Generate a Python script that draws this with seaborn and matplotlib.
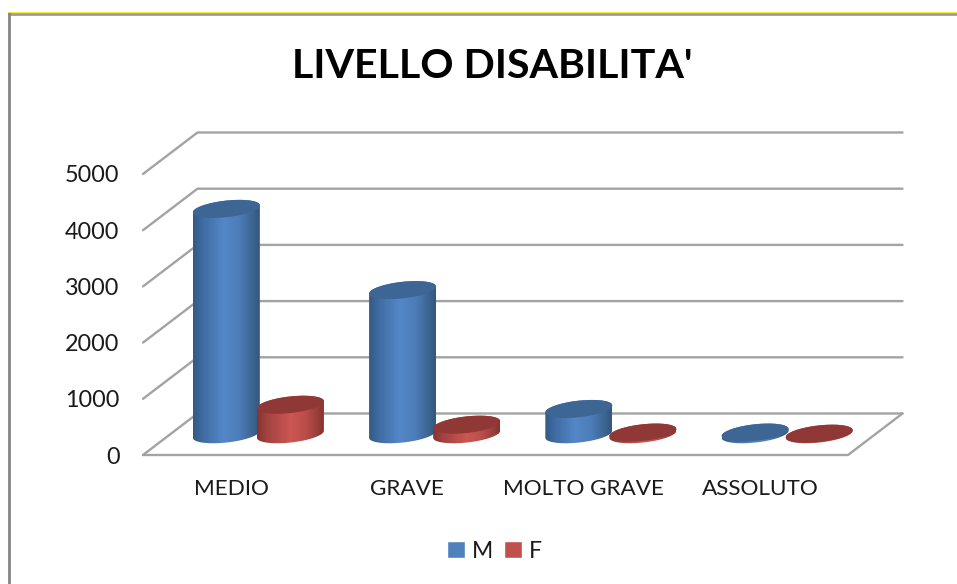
import numpy as np
import pandas as pd
import seaborn as sns
import matplotlib
matplotlib.use('Agg')
import matplotlib.pyplot as plt
from matplotlib.colors import LinearSegmentedColormap
from matplotlib.patches import Patch, PathPatch, Polygon
from matplotlib.path import Path
from matplotlib.transforms import Affine2D

# Values
categories = ['MEDIO', 'GRAVE', 'MOLTO GRAVE', 'ASSOLUTO']
values_m = [4010, 2565, 450, 30]
values_f = [525, 170, 30, 10]
y_ticks = [0, 1000, 2000, 3000, 4000, 5000]
title = "LIVELLO DISABILITA'"

W, H = 957, 584
DEPTH_X, DEPTH_Y = 54.5, 41.5
ELL_A, ELL_B, ELL_K = 33.5, 8.3, 0.105

sns.set_theme(style='white')
plt.rcParams['font.family'] = ['Lato', 'DejaVu Sans']

df = pd.DataFrame({
    'cat': categories * 2,
    'serie': ['M'] * 4 + ['F'] * 4,
    'val': values_m + values_f,
})
colors = {'M': '#4f81bd', 'F': '#c0504d'}

fig = plt.figure(figsize=(W / 100, H / 100), dpi=100, facecolor='white')
# the axes is the front plane of the 3D box
ax = fig.add_axes([143 / W, 1 - 455 / H, 705 / W, 281 / H], facecolor='none')
sns.barplot(data=df, x='cat', y='val', hue='serie', palette=colors, width=0.727,
            dodge=True, legend=False, ax=ax, saturation=1)
ax.set_xlim(-0.5, 3.5)
ax.set_ylim(0, 5000)
ax.set_yticks(y_ticks)
ax.set_xlabel('')
ax.set_ylabel('')
ax.tick_params(axis='y', length=0, pad=17, labelsize=16.8, labelcolor='#1a1a1a')
ax.tick_params(axis='x', length=0, pad=17.5, labelsize=16.2, labelcolor='#1a1a1a')
for s in ax.spines.values():
    s.set_visible(False)

fig.canvas.draw()

# bars sit half way into the depth of the box
mid = Affine2D().translate(DEPTH_X / 2, DEPTH_Y / 2)
bars = [p for p in ax.patches if p.get_height() > 0]
for p in bars:
    p.set_transform(ax.transData + mid)
    p.set_clip_on(False)

# pixel overlay for the box and the cylinders
over = fig.add_axes([0, 0, 1, 1], facecolor='none')
over.set_xlim(0, W)
over.set_ylim(H, 0)
over.axis('off')


def to_px(x, y, depth=0.0):
    px, py = ax.transData.transform((x, y))
    return px + DEPTH_X * depth, H - py - DEPTH_Y * depth


# walls and floor
grid_color = '#a3a3a3'
for v in y_ticks:
    x0, y0 = to_px(-0.5, v, 0)
    x1, y1 = to_px(-0.5, v, 1)
    x2, y2 = to_px(3.5, v, 1)
    over.plot([x0, x1, x2], [y0, y1, y2], color=grid_color, lw=1.7, zorder=1)
fx0, fy0 = to_px(-0.5, 0, 0)
fx1, fy1 = to_px(3.5, 0, 0)
bx1, by1 = to_px(3.5, 0, 1)
over.plot([fx0, fx1, bx1], [fy0, fy1, by1], color=grid_color, lw=1.7, zorder=1)

# outer frame of the chart area
over.plot([9, W], [13.5, 13.5], color='#9c9c9c', lw=2.0, zorder=1)
over.plot([8, W], [11.6, 11.6], color='#f2ea1a', lw=0.6, zorder=1.1)
over.plot([9.2, 9.2], [12.5, H], color='#858585', lw=2.0, zorder=1)

cmap_m = LinearSegmentedColormap.from_list('m', [(0, '#345a85'), (0.15, '#3f6ca3'), (0.45, '#5487c8'),
                                                 (0.7, '#4c7cb8'), (0.9, '#3c648f'), (1, '#335880')])
cmap_f = LinearSegmentedColormap.from_list('f', [(0, '#873431'), (0.15, '#a24340'), (0.5, '#cc5653'),
                                                 (0.72, '#bc4e4b'), (0.9, '#9a3f3c'), (1, '#853331')])
top_colors = {'M': '#3d6695', 'F': '#8f3835'}


def draw_cylinder(cx, y_bot, y_top, serie, z):
    lower = np.linspace(np.pi, 2 * np.pi, 40)
    upper = np.linspace(0, np.pi, 40)
    around = np.linspace(0, 2 * np.pi, 80)
    # screen y runs downward, the ellipse is sheared up to the right
    xb = cx + ELL_A * np.cos(lower)
    yb = y_bot - ELL_B * np.sin(lower) - ELL_K * ELL_A * np.cos(lower)
    xt = cx + ELL_A * np.cos(upper)
    yt = y_top - ELL_B * np.sin(upper) - ELL_K * ELL_A * np.cos(upper)
    verts = np.column_stack([np.r_[xb, xt], np.r_[yb, yt]])
    body = PathPatch(Path(np.vstack([verts, verts[0]]), closed=True), facecolor='none', edgecolor='none',
                     transform=over.transData)
    over.add_patch(body)
    grad = np.linspace(0, 1, 128).reshape(1, -1)
    im = over.imshow(grad, cmap=cmap_m if serie == 'M' else cmap_f, aspect='auto', zorder=z,
                     extent=[cx - ELL_A, cx + ELL_A, y_bot + 12, y_top - 12], interpolation='bilinear')
    im.set_clip_path(body)
    xe = cx + ELL_A * np.cos(around)
    ye = y_top - ELL_B * np.sin(around) - ELL_K * ELL_A * np.cos(around)
    over.add_patch(Polygon(np.column_stack([xe, ye]), closed=True, facecolor=top_colors[serie],
                           edgecolor='none', zorder=z + 0.5))


order = ['M'] * 4 + ['F'] * 4
vals = values_m + values_f
for i, p in enumerate(bars):
    cx_data = p.get_x() + p.get_width() / 2
    cx, y_bot = to_px(cx_data, 0, 0.5)
    _, y_top = to_px(cx_data, vals[i], 0.5)
    # left to right so that each cylinder overlaps the one before
    draw_cylinder(cx, y_bot, y_top, order[i], 3 + cx / W)

over.set_xlim(0, W)
over.set_ylim(H, 0)

fig.text(492.5 / W, 1 - 66 / H, title, ha='center', va='center', fontsize=29.6, fontweight='bold', color='black')

handles = [Patch(facecolor=colors['M'], label='M'), Patch(facecolor=colors['F'], label='F')]
fig.legend(handles=handles, ncol=2, loc='center', bbox_to_anchor=(494.5 / W, 1 - 551 / H), frameon=False,
           fontsize=16.5, handlelength=0.78, handleheight=0.72, handletextpad=0.3, columnspacing=0.5,
           labelcolor='#1a1a1a')

plt.savefig('out.png', dpi=100)
